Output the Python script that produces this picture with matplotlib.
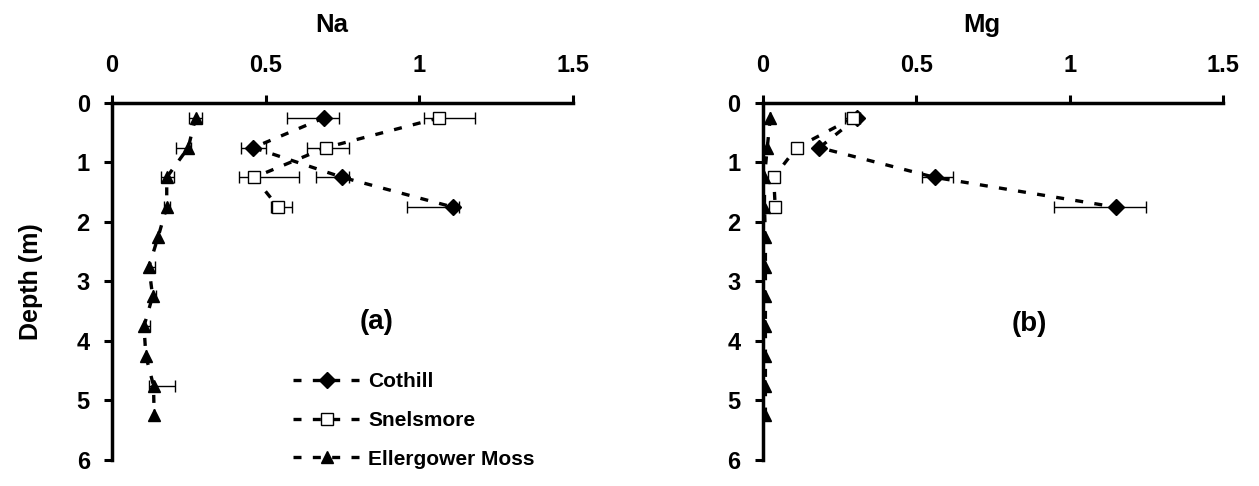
import matplotlib.pyplot as plt
import numpy as np

plt.rcParams['font.family'] = ['Liberation Sans', 'DejaVu Sans']
plt.rcParams['font.weight'] = 'bold'

# depths (m)
depth_short = [0.25, 0.75, 1.25, 1.75]
depth_long = [0.25, 0.75, 1.25, 1.75, 2.25, 2.75, 3.25, 3.75, 4.25, 4.75, 5.25]

# Na
na_cothill = [0.69, 0.46, 0.75, 1.11]
na_cothill_lo = [0.12, 0.04, 0.085, 0.15]
na_cothill_hi = [0.05, 0.04, 0.02, 0.02]

na_snelsmore = [1.065, 0.696, 0.463, 0.541]
na_snelsmore_lo = [0.05, 0.06, 0.05, 0.025]
na_snelsmore_hi = [0.115, 0.075, 0.145, 0.045]

na_ellergower = [0.272, 0.248, 0.178, 0.178, 0.150, 0.120, 0.132, 0.104, 0.110, 0.135, 0.137]
na_ellergower_lo = [0.02, 0.04, 0.02, 0.01, 0.0, 0.0, 0.0, 0.0, 0.0, 0.015, 0.0]
na_ellergower_hi = [0.02, 0.01, 0.025, 0.01, 0.0, 0.02, 0.01, 0.02, 0.0, 0.07, 0.0]

# Mg
mg_cothill = [0.306, 0.184, 0.56, 1.15]
mg_cothill_lo = [0.04, 0.0, 0.04, 0.2]
mg_cothill_hi = [0.01, 0.0, 0.06, 0.1]

mg_snelsmore = [0.294, 0.11, 0.035, 0.04]
mg_snelsmore_lo = [0.02, 0.005, 0.005, 0.005]
mg_snelsmore_hi = [0.015, 0.01, 0.01, 0.01]

mg_ellergower = [0.024, 0.014, 0.005, 0.005, 0.008, 0.008, 0.008, 0.008, 0.008, 0.008, 0.008]
mg_ellergower_lo = [0.0] * 11
mg_ellergower_hi = [0.0] * 11

x_ticks = [0, 0.5, 1, 1.5]
x_tick_labels = ['0', '0.5', '1', '1.5']
y_ticks = [0, 1, 2, 3, 4, 5, 6]

LINE_KW = dict(color='black', lw=2.4, dashes=(2.4, 3.4), mec='black', mew=1.0)


def draw_panel(ax, title, series, tag, tag_pos):
    for (x, lo, hi, depth, label, marker, face, ms) in series:
        ax.errorbar(x, depth, xerr=[lo, hi], fmt='none', ecolor='black',
                    elinewidth=1.0, capsize=4.5, capthick=1.0, zorder=2)
    for (x, lo, hi, depth, label, marker, face, ms) in series:
        ax.plot(x, depth, marker=marker, mfc=face, ms=ms, label=label,
                zorder=3, **LINE_KW)

    ax.set_xlim(0, 1.5)
    ax.set_ylim(6, 0)
    ax.xaxis.tick_top()
    ax.set_xticks(x_ticks)
    ax.set_xticklabels(x_tick_labels)
    ax.set_yticks(y_ticks)
    ax.tick_params(axis='both', direction='out', width=2.2, length=6,
                   labelsize=17)
    ax.tick_params(axis='x', pad=13)
    ax.tick_params(axis='y', pad=10)
    for s in ['right', 'bottom']:
        ax.spines[s].set_visible(False)
    for s in ['left', 'top']:
        ax.spines[s].set_linewidth(2.5)
    ax.text(0.476, 1.199, title, transform=ax.transAxes, fontsize=18.5,
            fontweight='bold', ha='center', va='baseline')
    ax.text(tag_pos[0], tag_pos[1], tag, transform=ax.transAxes, fontsize=20,
            fontweight='bold', ha='center', va='center')


fig = plt.figure(figsize=(12.59, 4.86), dpi=100)
ax1 = fig.add_axes([0.089, 0.0535, 0.366, 0.7346])
ax2 = fig.add_axes([0.606, 0.0535, 0.3654, 0.7346])

draw_panel(ax1, 'Na', [
    (na_cothill, na_cothill_lo, na_cothill_hi, depth_short, 'Cothill', 'D', 'black', 8),
    (na_snelsmore, na_snelsmore_lo, na_snelsmore_hi, depth_short, 'Snelsmore', 's', 'white', 8.5),
    (na_ellergower, na_ellergower_lo, na_ellergower_hi, depth_long, 'Ellergower Moss', '^', 'black', 9),
], '(a)', (0.573, 0.387))

draw_panel(ax2, 'Mg', [
    (mg_cothill, mg_cothill_lo, mg_cothill_hi, depth_short, 'Cothill', 'D', 'black', 8),
    (mg_snelsmore, mg_snelsmore_lo, mg_snelsmore_hi, depth_short, 'Snelsmore', 's', 'white', 8.5),
    (mg_ellergower, mg_ellergower_lo, mg_ellergower_hi, depth_long, 'Ellergower Moss', '^', 'black', 9),
], '(b)', (0.58, 0.38))

ax1.set_ylabel('Depth (m)', fontsize=18, fontweight='bold', labelpad=24)

ax1.legend(loc='upper left', bbox_to_anchor=(0.352, 0.298), frameon=False,
           fontsize=15, handlelength=3.3, labelspacing=0.94, handletextpad=0.3)

fig.savefig('out.png', dpi=100)
